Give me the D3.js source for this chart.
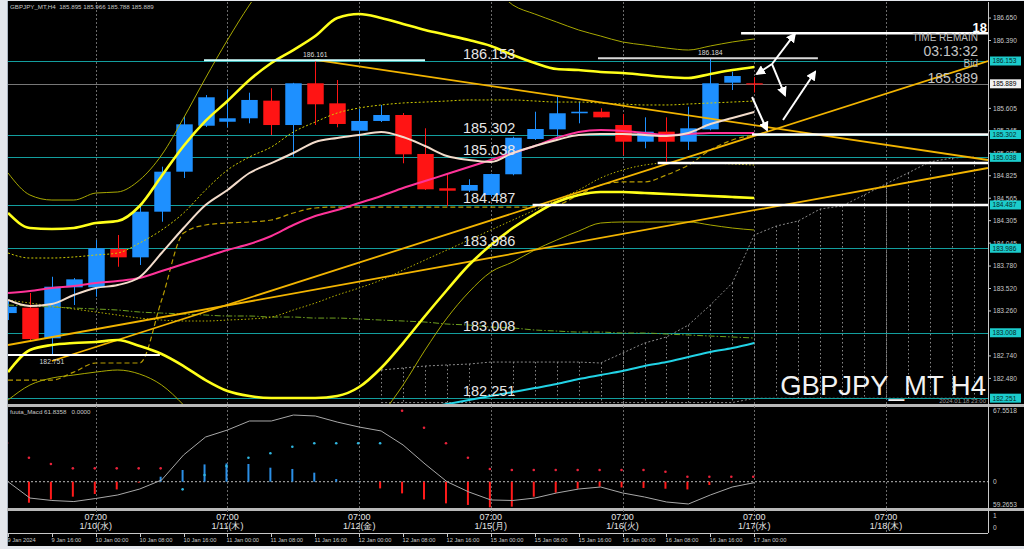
<!DOCTYPE html>
<html><head><meta charset="utf-8">
<script src="https://cdn.jsdelivr.net/npm/d3@7"></script>
<style>html,body{margin:0;padding:0;background:#e4e7ec;overflow:hidden}text{font-family:"Liberation Sans",Arial,sans-serif}</style>
</head><body><svg id="c" width="1024" height="549"></svg>
<script>
// ---------- DATA ----------
const opens  = [183.236,183.298,182.944,183.534,183.534,183.977,183.881,184.409,184.872,185.404,185.450,185.490,185.694,185.412,185.895,185.663,185.346,185.459,185.528,185.077,184.680,184.652,184.602,184.842,185.250,185.362,185.548,185.566,185.412,185.219,185.335,185.219,185.362,185.902,185.895];
const highs  = [183.387,183.468,183.656,183.641,184.081,184.139,184.486,184.930,185.516,185.759,185.825,185.786,185.837,185.900,186.161,185.933,185.600,185.644,185.551,185.374,184.853,184.784,184.850,185.277,185.566,185.740,185.682,185.606,185.540,185.501,185.501,185.624,186.184,186.029,185.966];
const lows   = [183.155,182.924,182.751,183.329,183.425,183.772,183.792,184.293,184.799,185.390,185.386,185.432,185.297,185.045,185.412,185.386,185.045,185.447,184.969,184.660,184.473,184.637,184.582,184.830,185.239,185.277,185.432,185.500,185.065,185.143,184.987,185.123,185.350,185.817,185.788];
const closes = [183.309,182.935,183.541,183.626,183.985,183.881,184.409,184.872,185.420,185.733,185.490,185.702,185.412,185.895,185.652,185.424,185.459,185.528,185.073,184.668,184.652,184.718,184.845,185.265,185.366,185.548,185.566,185.501,185.219,185.335,185.219,185.374,185.895,185.979,185.889];

const upperBB = [184.394,184.220,184.209,184.220,184.278,184.301,184.475,184.822,185.169,185.459,185.690,185.933,186.130,186.280,186.442,186.651,186.697,186.651,186.581,186.512,186.454,186.396,186.327,186.222,186.130,186.060,186.049,186.026,186.014,185.991,185.968,185.956,186.003,186.049,186.084];
const lowerBB = [182.553,182.808,182.866,182.889,182.901,182.924,182.854,182.762,182.623,182.461,182.334,182.276,182.253,182.253,182.253,182.276,182.380,182.600,182.889,183.202,183.503,183.792,184.023,184.220,184.382,184.521,184.602,184.637,184.637,184.625,184.614,184.602,184.591,184.579,184.567];
const upperOuter = [184.857,184.602,184.544,184.544,184.625,184.637,184.776,185.065,185.493,185.956,186.396,186.801,187.148,187.438,187.611,187.727,187.762,187.692,187.611,187.496,187.380,187.206,187.033,186.801,186.697,186.604,186.512,186.442,186.373,186.338,186.303,186.280,186.327,186.373,186.408];
const lowerOuter = [182.229,182.403,182.484,182.519,182.553,182.577,182.530,182.403,182.172,181.882,181.651,181.535,181.477,181.477,181.500,181.593,181.766,182.056,182.403,182.808,183.178,183.479,183.711,183.827,183.966,184.081,184.185,184.278,184.290,184.290,184.290,184.290,184.255,184.220,184.197];
const middleBand = [183.931,183.873,183.873,183.885,183.908,183.931,184.047,184.197,184.394,184.660,184.891,185.042,185.158,185.331,185.447,185.551,185.609,185.644,185.667,185.678,185.690,185.702,185.702,185.702,185.690,185.678,185.678,185.667,185.655,185.644,185.644,185.655,185.667,185.678,185.690];
const beigeMA = [183.387,183.317,183.341,183.445,183.526,183.560,183.653,183.931,184.220,184.486,184.660,184.857,184.972,185.088,185.216,185.262,185.297,185.331,185.273,185.169,185.053,185.007,184.984,185.088,185.169,185.239,185.297,185.308,185.308,185.297,185.285,185.320,185.424,185.493,185.563];
const magentaMA = [183.468,183.491,183.526,183.549,183.584,183.607,183.641,183.722,183.803,183.885,183.966,184.035,184.128,184.255,184.359,184.428,184.510,184.591,184.683,184.764,184.845,184.926,185.007,185.088,185.169,185.262,185.331,185.354,185.343,185.320,185.297,185.308,185.320,185.320,185.320];
const kijunDashed = [182.461,182.461,182.461,182.553,182.658,182.658,182.658,183.387,184.162,184.255,184.278,184.290,184.313,184.394,184.452,184.463,184.463,184.463,184.463,184.463,184.463,184.463,184.463,184.463,184.463,184.486,184.602,184.718,184.753,184.753,184.834,184.949,185.123,185.239,185.297];
const greenDashDot = [183.329,183.317,183.306,183.294,183.283,183.271,183.248,183.236,183.225,183.213,183.202,183.202,183.190,183.190,183.178,183.178,183.167,183.155,183.144,183.132,183.109,183.097,183.074,183.063,183.040,183.028,183.016,183.016,183.005,183.005,182.993,182.982,182.970,182.959,182.947];
const dottedLower = [183.387,183.352,183.317,183.283,183.248,183.213,183.178,183.155,183.144,183.144,183.155,183.167,183.190,183.271,183.352,183.445,183.526,183.618,183.734,183.850,183.966,184.081,184.197,184.313,184.428,184.544,184.660,184.799,184.891,184.949,184.972,184.972,184.972,184.961,184.949];
const cyanLine = [null,null,null,null,null,null,null,null,null,null,null,null,null,null,null,null,null,null,null,182.137,182.183,182.229,182.276,182.322,182.368,182.415,182.472,182.519,182.565,182.623,182.669,182.727,182.785,182.831,182.889];

const cloudStart = 17;
const cloudTop = [182.577,182.600,182.623,182.635,182.646,182.669,182.669,182.669,182.669,182.669,182.658,182.773,182.889,182.959,183.097,183.329,183.584,184.139,184.243,184.301,184.440,184.475,184.602,184.730,184.857,184.985,185.030,185.042];
const cloudBottom = [182.200,182.200,182.200,182.200,182.200,182.200,182.200,182.200,182.200,182.200,182.200,182.200,182.200,182.200,182.200,182.200,182.200,182.250,182.250,182.250,182.250,182.250,182.250,182.250,182.250,182.250,182.250,182.250];

// trend lines (bar index / price pairs)
const trendK1 = [14, 2, 0], trendP1 = [186.165, 182.681, 182.866];
const trendK2 = [44.65, 44.65, 44.65], trendP2 = [185.007, 186.153, 184.915];

// horizontal levels
const levels = [186.153, 185.302, 185.038, 184.487, 183.986, 183.008, 182.251];
const bidPrice = 185.889;
const markK1 = [0, 8.93, 26.88], markK2 = [6.92, 19.0, 36.9], markP = [182.751, 186.161, 186.184], markAt = [2, 14, 32];
const whiteK1 = [33.4, 33.9, 29.6, 23.9], whiteP = [186.474, 185.302, 184.972, 184.487];

// arrows
const arrK1 = [34.81, 34.81, 34.81, 35.31, 33.90], arrP1 = [186.118, 186.118, 186.118, 185.470, 185.736];
const arrK2 = [35.85, 34.12, 35.40, 36.77, 34.58], arrP2 = [186.466, 186.003, 185.759, 186.026, 185.354];

// visible price-axis labels (those fully hidden under the level boxes are left out)
const priceTicks = [186.650,186.390,185.605,185.345,185.085,184.825,184.565,184.305,184.045,183.780,183.520,183.260,182.740,182.480];

// MACD panel
const macdHist = [-17.0,-19.8,-16.7,-14.1,-11.6,-7.3,-0.9,4.7,11.0,16.3,17.2,16.7,13.2,12.0,8.5,2.5,0.3,-6.3,-11.0,-16.7,-20.4,-21.9,-24.2,-23.5,-14.1,-10.4,-6.6,-4.7,-5.4,-5.9,-6.6,-7.3,-3.1,-0.5,0];
const macdLine = [0,-15.4,-17.7,-18.7,-15.8,-12.5,-6.9,1.6,25.2,42.1,48.7,57.2,57.2,62.8,61.9,56.2,51.5,47.8,34.6,16.7,0,-9.7,-17.2,-17.7,-15.4,-10.6,-6.9,-5.0,-10.6,-14.4,-19.1,-21.0,-12.5,-5.0,-0.9];
const macdDots = [36.5,22.6,16.7,12.6,12.6,12.6,12.6,12.6,-7.2,6.3,14.8,22.6,26.8,33.0,36.2,36.2,36.2,36.2,66.9,50.9,36.2,22.6,12.0,11.0,11.0,11.0,11.0,11.0,11.0,11.0,9.4,4.7,4.7,4.7,4.7];
const macdAxisLabels = ["67.5518", "0", "59.2653"];
const macdMax = 67.5518, macdMin = -22.89;

// time axis
const timeLabels = ["9 Jan 2024","9 Jan 16:00","10 Jan 00:00","10 Jan 08:00","10 Jan 16:00","11 Jan 00:00","11 Jan 08:00","11 Jan 16:00","12 Jan 00:00","12 Jan 08:00","12 Jan 16:00","15 Jan 00:00","15 Jan 08:00","15 Jan 16:00","16 Jan 00:00","16 Jan 08:00","16 Jan 16:00","17 Jan 00:00"];
const daySepIdx = [4, 10, 16, 22, 28, 34, 40];
const dayLabels = ["1/10(水)","1/11(木)","1/12(金)","1/15(月)","1/16(火)","1/17(水)","1/18(木)"];
const dayTime = "07:00";

const headerText = "GBPJPY_MT,H4  185.895 185.966 185.788 185.889";
const macdHeader = "fuuta_Macd 61.8358   0.0000";

// ---------- LAYOUT ----------
const svg = d3.select('#c');
const L = 7, R = 988, mTop = 2, mBot = 404, dTop = 407, dBot = 508, sTop = 511, sBot = 533;
const x = d3.scaleLinear().domain([0, 44.65]).range([8, 988]);
const y = d3.scaleLinear().domain([182.172, 186.801]).range([405, 5]);
const ym = d3.scaleLinear().domain([macdMin, macdMax]).range([506, 410]);
const bw = (x(1) - x(0)) * 0.75;

svg.append('rect').attr('width', 1024).attr('height', 549).attr('fill', '#e4e7ec');
svg.append('rect').attr('x', L).attr('y', 1).attr('width', 1024 - L).attr('height', 545).attr('fill', '#000');
svg.append('line').attr('x1', L + 0.5).attr('x2', L + 0.5).attr('y1', 1).attr('y2', 546).attr('stroke', '#aab4c0');

const defs = svg.append('defs');
defs.append('clipPath').attr('id', 'cm').append('rect').attr('x', L + 1).attr('y', mTop).attr('width', R - L - 1).attr('height', mBot - mTop);
defs.append('clipPath').attr('id', 'cd').append('rect').attr('x', L + 1).attr('y', dTop).attr('width', R - L - 1).attr('height', dBot - dTop);
defs.append('marker').attr('id', 'ah').attr('viewBox', '0 0 10 10').attr('refX', 8).attr('refY', 5)
  .attr('markerWidth', 5).attr('markerHeight', 5).attr('orient', 'auto')
  .append('path').attr('d', 'M0,0 L10,5 L0,10 z').attr('fill', '#fff');

// separators
svg.append('rect').attr('x', L).attr('y', mBot).attr('width', 1024 - L).attr('height', 3).attr('fill', '#b8b8b8');
svg.append('rect').attr('x', L).attr('y', dBot).attr('width', 1024 - L).attr('height', 3).attr('fill', '#b8b8b8');
svg.append('line').attr('x1', L).attr('x2', R).attr('y1', sBot + 0.5).attr('y2', sBot + 0.5).attr('stroke', '#c8c8c8');
svg.append('line').attr('x1', R + 0.5).attr('x2', R + 0.5).attr('y1', mTop).attr('y2', sBot).attr('stroke', '#c8c8c8');

// day separators
daySepIdx.forEach(k => {
  svg.append('line').attr('x1', Math.round(x(k)) + 0.5).attr('x2', Math.round(x(k)) + 0.5)
    .attr('y1', mTop).attr('y2', sBot).attr('stroke', '#6a6a6a').attr('stroke-dasharray', '2,2');
});

// ---------- MAIN PANEL ----------
const g = svg.append('g').attr('clip-path', 'url(#cm)');

// cloud hatching
cloudTop.forEach((v, j) => {
  const k = cloudStart + j;
  g.append('line').attr('x1', Math.round(x(k)) + 0.5).attr('x2', Math.round(x(k)) + 0.5)
    .attr('y1', y(v)).attr('y2', y(cloudBottom[j])).attr('stroke', '#8a8a8a').attr('stroke-width', 1).attr('stroke-dasharray', '1.5,2.5');
});
const cloudLine = d3.line().x((d, j) => x(cloudStart + j)).y(d => y(d));
g.append('path').attr('d', cloudLine(cloudTop)).attr('fill', 'none').attr('stroke', '#8a8a8a').attr('stroke-dasharray', '2,2');
g.append('path').attr('d', cloudLine(cloudBottom)).attr('fill', 'none').attr('stroke', '#8a8a8a').attr('stroke-dasharray', '2,2');

// level lines
levels.forEach(v => {
  g.append('line').attr('x1', L).attr('x2', R).attr('y1', Math.round(y(v)) + 0.5).attr('y2', Math.round(y(v)) + 0.5).attr('stroke', '#139e9e');
});
g.append('line').attr('x1', L).attr('x2', R).attr('y1', Math.round(y(bidPrice)) + 0.5).attr('y2', Math.round(y(bidPrice)) + 0.5).attr('stroke', '#777');

// candles
d3.range(opens.length).forEach(i => {
  const up = closes[i] >= opens[i];
  const col = up ? '#1e90ff' : '#ff1414';
  const cx = Math.round(x(i)) + 0.5;
  g.append('line').attr('x1', cx).attr('x2', cx).attr('y1', y(highs[i])).attr('y2', y(lows[i])).attr('stroke', col);
  const t = y(Math.max(opens[i], closes[i])), b = y(Math.min(opens[i], closes[i]));
  g.append('rect').attr('x', cx - bw / 2).attr('y', t).attr('width', bw).attr('height', Math.max(1.2, b - t)).attr('fill', col);
});

const line = d3.line().defined(d => d != null).x((d, i) => x(i)).y(d => y(d)).curve(d3.curveMonotoneX);
function drawLine(arr, col, w, dash) {
  const p = g.append('path').attr('d', line(arr)).attr('fill', 'none').attr('stroke', col).attr('stroke-width', w);
  if (dash) p.attr('stroke-dasharray', dash);
}
drawLine(greenDashDot, '#6f9f1f', 1, '6,2,1.5,2');
drawLine(dottedLower, '#b9b400', 1, '1.5,2');
drawLine(kijunDashed, '#b89c00', 1.2, '5,3');
drawLine(upperOuter, '#a8a800', 1);
drawLine(lowerOuter, '#a8a800', 1);
drawLine(middleBand, '#d0cc00', 1, '2,2');
drawLine(cyanLine, '#22d3e6', 2);

// trend lines
trendK1.forEach((k, i) => {
  g.append('line').attr('x1', x(k)).attr('y1', y(trendP1[i])).attr('x2', x(trendK2[i])).attr('y2', y(trendP2[i]))
    .attr('stroke', '#f2b400').attr('stroke-width', 1.8);
});

drawLine(magentaMA, '#ff3399', 2);
drawLine(beigeMA, '#f3dccb', 2);
drawLine(upperBB, '#ffff1a', 2.6);
drawLine(lowerBB, '#ffff1a', 2.6);

// high / low markers
const markCol = ['#ffffff', '#cfffff', '#d8d8d8'];
markP.forEach((v, i) => {
  g.append('line').attr('x1', x(markK1[i])).attr('x2', x(markK2[i])).attr('y1', y(v)).attr('y2', y(v)).attr('stroke', markCol[i]).attr('stroke-width', 2);
  const below = i === 0;
  g.append('text').attr('x', x(markAt[i])).attr('y', below ? y(v) + 9 : y(v) - 3).attr('text-anchor', 'middle')
    .attr('font-size', 6.8).attr('fill', '#d8d8d8').text(v.toFixed(3));
});
whiteP.forEach((v, i) => {
  g.append('line').attr('x1', x(whiteK1[i])).attr('x2', R).attr('y1', y(v)).attr('y2', y(v)).attr('stroke', '#fff').attr('stroke-width', 2.6);
});

// level labels
levels.forEach(v => {
  g.append('text').attr('x', x(20.73)).attr('y', y(v) - 2).attr('font-size', 14.5).attr('fill', '#e6e6e6').text(v.toFixed(3));
});

// arrows
arrK1.forEach((k, i) => {
  g.append('line').attr('x1', x(k)).attr('y1', y(arrP1[i])).attr('x2', x(arrK2[i])).attr('y2', y(arrP2[i]))
    .attr('stroke', '#fff').attr('stroke-width', 2).attr('marker-end', 'url(#ah)');
});

// texts main
svg.append('text').attr('x', 10).attr('y', 9).attr('font-size', 6.2).attr('fill', '#c8c8c8').attr('xml:space', 'preserve').text(headerText);
svg.append('text').attr('x', 987).attr('y', 32).attr('text-anchor', 'end').attr('font-size', 13).attr('font-weight', 'bold').attr('fill', '#fff').text('18');
svg.append('text').attr('x', 978).attr('y', 40.5).attr('text-anchor', 'end').attr('font-size', 10).attr('fill', '#bdbdbd').text('TIME REMAIN');
svg.append('text').attr('x', 978).attr('y', 56).attr('text-anchor', 'end').attr('font-size', 14).attr('fill', '#c4c4c4').text('03:13:32');
svg.append('text').attr('x', 978).attr('y', 67).attr('text-anchor', 'end').attr('font-size', 10).attr('fill', '#bdbdbd').text('Bid');
svg.append('text').attr('x', 978).attr('y', 83).attr('text-anchor', 'end').attr('font-size', 14).attr('fill', '#c4c4c4').text(bidPrice.toFixed(3));
svg.append('text').attr('x', 986).attr('y', 395).attr('text-anchor', 'end').attr('font-size', 27.5).attr('fill', '#f2f2f2').text('GBPJPY_MT H4');
svg.append('text').attr('x', 986).attr('y', 403).attr('text-anchor', 'end').attr('font-size', 6).attr('fill', '#9a9a9a').text('2024.01.18 23:00');

// right price axis
priceTicks.forEach(v => {
  svg.append('line').attr('x1', R).attr('x2', R + 3).attr('y1', y(v)).attr('y2', y(v)).attr('stroke', '#c8c8c8');
  svg.append('text').attr('x', 993).attr('y', y(v) + 2.4).attr('font-size', 6.6).attr('fill', '#c8c8c8').text(v.toFixed(3));
});
levels.forEach(v => {
  svg.append('rect').attr('x', 990).attr('y', y(v) - 4.5).attr('width', 31).attr('height', 9).attr('fill', '#1ccccc');
  svg.append('text').attr('x', 992.5).attr('y', y(v) + 2.4).attr('font-size', 6.6).attr('fill', '#062a2a').text(v.toFixed(3));
});
svg.append('rect').attr('x', 990).attr('y', y(bidPrice) - 4.5).attr('width', 31).attr('height', 9).attr('fill', '#f2f2f2');
svg.append('text').attr('x', 992.5).attr('y', y(bidPrice) + 2.4).attr('font-size', 6.6).attr('fill', '#000').text(bidPrice.toFixed(3));

// ---------- MACD PANEL ----------
const gd = svg.append('g').attr('clip-path', 'url(#cd)');
gd.append('line').attr('x1', L).attr('x2', R).attr('y1', ym(0)).attr('y2', ym(0)).attr('stroke', '#bbb').attr('stroke-dasharray', '2,2');
macdHist.forEach((v, i) => {
  if (v === 0) return;
  gd.append('line').attr('x1', x(i) - 1).attr('x2', x(i) - 1).attr('y1', ym(0)).attr('y2', ym(v))
    .attr('stroke', v > 0 ? '#2b8fe6' : '#ff1a1a').attr('stroke-width', 2);
});
const mline = d3.line().x((d, i) => x(i)).y(d => ym(d));
gd.append('path').attr('d', mline(macdLine)).attr('fill', 'none').attr('stroke', '#a8a8a8').attr('stroke-width', 1);
macdDots.forEach((v, i) => {
  gd.append('circle').attr('cx', x(i) - 1).attr('cy', ym(v)).attr('r', 1.3)
    .attr('fill', macdLine[i] > v ? '#2fb6e0' : '#e8223a');
});
svg.append('text').attr('x', 10).attr('y', 414).attr('font-size', 6.2).attr('fill', '#c8c8c8').attr('xml:space', 'preserve').text(macdHeader);
[macdMax, 0, macdMin].forEach((v, i) => {
  const yy = i === 0 ? 412.5 : (i === 2 ? 507 : ym(v) + 2.4);
  svg.append('text').attr('x', 993).attr('y', yy).attr('font-size', 6.6).attr('fill', '#c8c8c8').text(macdAxisLabels[i]);
});

// small panel
svg.append('text').attr('x', 993).attr('y', 518).attr('font-size', 6.6).attr('fill', '#c8c8c8').text('1');
svg.append('text').attr('x', 993).attr('y', 530).attr('font-size', 6.6).attr('fill', '#c8c8c8').text('0');
daySepIdx.forEach((k, i) => {
  svg.append('text').attr('x', x(k)).attr('y', 520).attr('text-anchor', 'middle').attr('font-size', 9)
    .attr('font-family', '"Noto Sans CJK JP",sans-serif').attr('fill', '#e6e6e6').text(dayTime);
  svg.append('text').attr('x', x(k)).attr('y', 529).attr('text-anchor', 'middle').attr('font-size', 9)
    .attr('font-family', '"Noto Sans CJK JP",sans-serif').attr('fill', '#e6e6e6').text(dayLabels[i]);
});

// time axis
timeLabels.forEach((t, j) => {
  const xx = Math.round(x(j * 2)) + 0.5;
  svg.append('line').attr('x1', xx).attr('x2', xx).attr('y1', sBot).attr('y2', sBot + 4).attr('stroke', '#c8c8c8');
  svg.append('text').attr('x', xx - 1).attr('y', 541.5).attr('font-size', 5.7).attr('fill', '#c8c8c8').text(t);
});
</script></body></html>
